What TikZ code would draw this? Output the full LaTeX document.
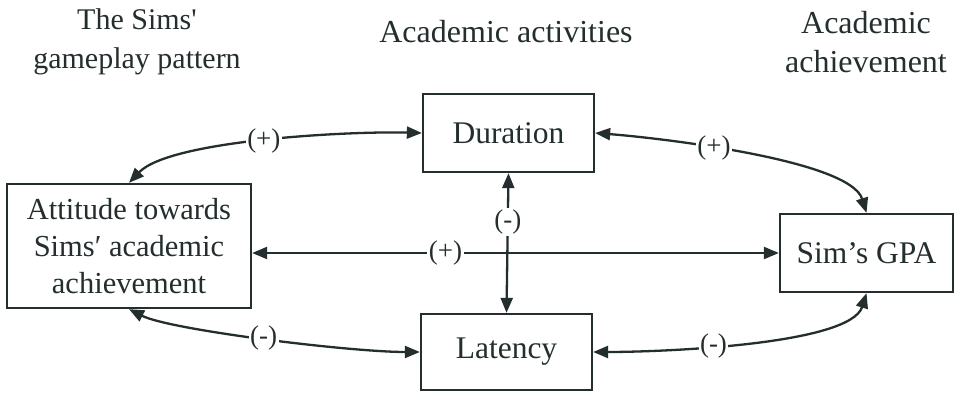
\documentclass[tikz,border=0pt]{standalone}
\usepackage{fontspec}
\setmainfont{LiberationSerif}[Extension=.ttf, UprightFont=*-Regular, BoldFont=*-Bold]
\usetikzlibrary{arrows.meta}
\definecolor{ink}{RGB}{36,46,46}
\begin{document}
\begin{tikzpicture}[x=1pt,y=-1pt,
  box/.style={draw=ink, line width=2.3pt, text=ink, font=\fontsize{31.5}{37}\selectfont, align=center, inner sep=0pt},
  hdr/.style={text=ink, align=center, inner sep=0pt},
  lbl/.style={fill=white, text=ink, inner sep=1.5pt, font=\fontsize{27}{30}\selectfont},
  conn/.style={draw=ink, line width=2.3pt, {Triangle[length=15pt,width=12pt]}-{Triangle[length=15pt,width=12pt]}}]
\fill[white] (0,0) rectangle (954,396);
\useasboundingbox (0,0) rectangle (954,396);

\node[hdr, font=\fontsize{30}{39}\selectfont] (h1) at (137,42) {The Sims\textquotesingle\\gameplay pattern};
\node[hdr, font=\fontsize{32}{39}\selectfont] (h2) at (506,32) {Academic activities};
\node[hdr, font=\fontsize{32}{39}\selectfont] (h3) at (866,42) {Academic\\achievement};

\node[box, font=\fontsize{30.5}{37}\selectfont, minimum width=244pt, minimum height=124pt] (att) at (129,246) {Attitude towards\\Sims′ academic\\achievement};
\node[box, minimum width=171pt, minimum height=78pt] (dur) at (508.5,133) {Duration};
\node[box, minimum width=171pt, minimum height=76pt] (lat) at (506.5,352) {Latency};
\node[box, minimum width=173pt, minimum height=78pt] (gpa) at (866.5,253) {Sim’s GPA};

\draw[conn] (dur.west) .. controls (350,131) and (170,140) .. node[lbl] {(+)} (att.north);
\draw[conn] (att.south) .. controls (170,330) and (350,352) .. node[lbl] {(-)} (lat.west);
\draw[conn] (dur.east) .. controls (660,138) and (850,160) .. node[lbl, pos=0.4] {(+)} (gpa.north);
\draw[conn] (lat.east) .. controls (660,352) and (850,345) .. node[lbl, pos=0.4] {(-)} (gpa.south);
\draw[conn] (att.east |- gpa.west) -- node[lbl, pos=0.367] {(+)} (gpa.west);
\draw[conn] (dur.south) -- node[lbl, pos=0.35] {(-)} (lat.north);
\end{tikzpicture}
\end{document}
